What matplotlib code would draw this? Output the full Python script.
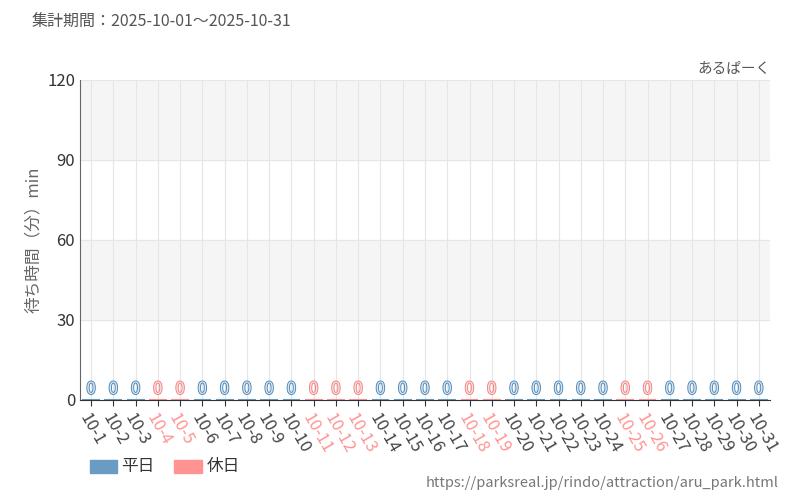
import matplotlib.pyplot as plt
import matplotlib.patheffects as pe

plt.rcParams['font.family'] = ['Noto Sans CJK JP', 'DejaVu Sans']

days = [f"10-{d}" for d in range(1, 32)]
holidays = [4, 5, 11, 12, 13, 18, 19, 25, 26]
waits = [0] * 31

WEEKDAY = "#6a9bc3"
HOLIDAY = "#ff9393"

fig = plt.figure(figsize=(8, 5), dpi=100)
ax = fig.add_axes([0.1, 0.2, 0.8625, 0.64])

colors = [HOLIDAY if i + 1 in holidays else WEEKDAY for i in range(31)]
txtcol = ["#f08080" if i + 1 in holidays else "#4a86b8" for i in range(31)]
fillcol = ["#ffdede" if i + 1 in holidays else "#d8e6f2" for i in range(31)]
x = list(range(31))
ax.bar(x, waits, width=0.8, color=colors, edgecolor=colors, linewidth=1.5)
for xi, v, c, f in zip(x, waits, txtcol, fillcol):
    ax.text(xi, v + 0.8, str(v), ha='center', va='bottom', color=f, fontsize=12,
            path_effects=[pe.withStroke(linewidth=1.3, foreground=c)])

ax.set_xlim(-0.5, 30.5)
ax.set_ylim(0, 120)
ax.set_yticks([0, 30, 60, 90, 120])
ax.axhspan(30, 60, color='#f5f5f5', zorder=0)
ax.axhspan(90, 120, color='#f5f5f5', zorder=0)
for y in [30, 60, 90, 120]:
    ax.axhline(y, color='#e6e6e6', lw=0.8, zorder=0)
for xi in x:
    ax.axvline(xi, color='#e6e6e6', lw=0.8, zorder=0)
ax.set_xticks(x)
ax.set_xticklabels(days, rotation=-60, ha='left', rotation_mode='anchor', fontsize=12)
for lab, c in zip(ax.get_xticklabels(), colors):
    lab.set_color(HOLIDAY if c == HOLIDAY else '#444444')
ax.tick_params(axis='y', length=0, labelsize=12, labelcolor='#333333')
ax.tick_params(axis='x', length=4, color='#333333')
for s in ['top', 'right']:
    ax.spines[s].set_visible(False)
ax.spines['left'].set_color('#666666')
ax.spines['bottom'].set_color('#333333')
ax.set_ylabel('待ち時間（分）min', color='#666666', fontsize=12)

fig.text(0.04, 0.955, '集計期間：2025-10-01～2025-10-31', fontsize=11.5, color='#555555', va='center')
fig.text(0.963, 0.862, 'あるぱーく', fontsize=10.5, color='#555555', ha='right', va='center')
fig.text(0.973, 0.035, 'https://parksreal.jp/rindo/attraction/aru_park.html', fontsize=10.5, color='#777777', ha='right', va='center')

fig.patches.append(plt.Rectangle((0.112, 0.054), 0.034, 0.026, transform=fig.transFigure, color=WEEKDAY))
fig.text(0.152, 0.066, '平日', fontsize=12, color='#333333', va='center')
fig.patches.append(plt.Rectangle((0.218, 0.054), 0.034, 0.026, transform=fig.transFigure, color=HOLIDAY))
fig.text(0.258, 0.066, '休日', fontsize=12, color='#333333', va='center')

fig.savefig('out.png', dpi=100)
